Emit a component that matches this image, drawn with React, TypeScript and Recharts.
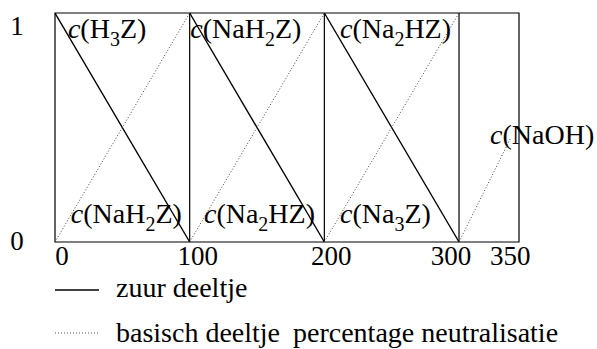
import React from 'react';
import {
  LineChart,
  Line,
  XAxis,
  YAxis,
  ReferenceLine,
  ReferenceArea,
  ReferenceDot,
  Legend,
  Label,
} from 'recharts';

const FONT = "'Liberation Serif', 'Times New Roman', Times, serif";
const FS = 28;
const textStyle: React.CSSProperties = { fontFamily: FONT, fontSize: FS };
const tickStyle: React.CSSProperties = { fontFamily: FONT, fontSize: 27 };

// ---------- data ----------
const xTicks = [0, 100, 200, 300, 350];
const xTickLabels = ['0', '100', '200', '300', '350'];
const yTicks = [0, 1];
const yTickLabels = ['0', '1'];
const dividers = [100, 200, 300];
const xMaxPercent = 358.6;

// zure deeltjes (solid)
const zuurH3Z = [{ p: 0, c: 1 }, { p: 100, c: 0 }];
const zuurNaH2Z = [{ p: 100, c: 1 }, { p: 200, c: 0 }];
const zuurNa2HZ = [{ p: 200, c: 1 }, { p: 300, c: 0 }];
// basische deeltjes (dotted)
const basNaH2Z = [{ p: 0, c: 0 }, { p: 100, c: 1 }];
const basNa2HZ = [{ p: 100, c: 0 }, { p: 200, c: 1 }];
const basNa3Z = [{ p: 200, c: 0 }, { p: 300, c: 1 }];
const basNaOH = [{ p: 300, c: 0 }, { p: 350, c: 0.45 }];

const speciesLabels = [
  { text: 'c(H3Z)', p: 9.6, c: 0.89 },
  { text: 'c(NaH2Z)', p: 100.5, c: 0.89 },
  { text: 'c(Na2HZ)', p: 211.6, c: 0.89 },
  { text: 'c(NaH2Z)', p: 11.7, c: 0.083 },
  { text: 'c(Na2HZ)', p: 110.6, c: 0.083 },
  { text: 'c(Na3Z)', p: 211.6, c: 0.083 },
  { text: 'c(NaOH)', p: 330.3, c: 0.43 },
];

const legendItems = ['zuur deeltje', 'basisch deeltje'];
const axisTitle = 'percentage neutralisatie';

// the segment beyond 300 % is drawn compressed in the original figure
const axisPos = (p: number) => (p <= 300 ? p : 300 + (p - 300) * 0.76);

// ---------- styles ----------
const xTickDx = [7, 8, 7, -8, 0];
const yTickDy = [8, 22];

const SpeciesText = ({ x, y, text }: { x: number; y: number; text: string }) => {
  const segs = text.slice(1).match(/\d+|\D+/g) || [];
  let shifted = false;
  const parts: React.ReactNode[] = [
    <tspan key="c" style={{ fontStyle: 'italic' }}>
      c
    </tspan>,
  ];
  segs.forEach((s, i) => {
    if (/\d/.test(s)) {
      parts.push(
        <tspan key={i} dy={8} style={{ fontSize: 20 }}>
          {s}
        </tspan>
      );
      shifted = true;
    } else {
      parts.push(
        <tspan key={i} dy={shifted ? -8 : 0}>
          {s}
        </tspan>
      );
      shifted = false;
    }
  });
  return (
    <text x={x} y={y} style={textStyle} fill="#000">
      {parts}
    </text>
  );
};

const XTick = (props: any) => {
  const { x, y, index } = props;
  return (
    <text x={x + xTickDx[index]} y={y + 23} textAnchor="middle" style={tickStyle} fill="#000">
      {xTickLabels[index]}
    </text>
  );
};

const YTick = (props: any) => {
  const { x, y, index } = props;
  return (
    <text x={x - 38} y={y + yTickDy[index]} textAnchor="middle" style={tickStyle} fill="#000">
      {yTickLabels[index]}
    </text>
  );
};

const LegendContent = () => (
  <svg width={597} height={73} style={{ display: 'block', overflow: 'visible' }}>
    <line x1={55} x2={99} y1={14} y2={14} stroke="#000" strokeWidth={1.3} />
    <text x={116} y={21} style={textStyle} fill="#000">
      {legendItems[0]}
    </text>
    <line x1={55} x2={99} y1={57} y2={57} stroke="#555" strokeWidth={1} strokeDasharray="1 2" />
    <text x={116} y={66} style={textStyle} fill="#000">
      {legendItems[1]}
    </text>
  </svg>
);

const solidProps = {
  type: 'linear' as const,
  dataKey: 'c',
  stroke: '#000',
  strokeWidth: 1.4,
  dot: false,
  activeDot: false,
  isAnimationActive: false,
  legendType: 'none' as const,
};
const dottedProps = {
  ...solidProps,
  stroke: '#444',
  strokeWidth: 1,
  strokeDasharray: '1 2',
};

export default function App() {
  const xMax = axisPos(xMaxPercent);
  return (
    <div style={{ position: 'absolute', left: 0, top: 0, width: 597, height: 349, background: '#fff', fontFamily: FONT }}>
      <LineChart width={597} height={349} margin={{ top: 13, right: 78, bottom: 77, left: 0 }}>
        <XAxis
          type="number"
          dataKey={(d: any) => axisPos(d.p)}
          domain={[0, xMax]}
          ticks={xTicks.map(axisPos)}
          interval={0}
          allowDataOverflow
          axisLine={false}
          tickLine={false}
          tickSize={0}
          tickMargin={0}
          height={30}
          tick={<XTick />}
        >
          <Label
            content={(props: any) => {
              const vb = props.viewBox || { x: 55, y: 242 };
              return (
                <text x={vb.x + 238} y={vb.y + 100} style={textStyle} fill="#000">
                  {axisTitle}
                </text>
              );
            }}
          />
        </XAxis>
        <YAxis
          type="number"
          domain={[0, 1]}
          ticks={yTicks}
          interval={0}
          width={55}
          axisLine={false}
          tickLine={false}
          tickSize={0}
          tickMargin={0}
          tick={<YTick />}
        />
        <ReferenceArea x1={0} x2={xMax} y1={0} y2={1} fill="none" stroke="#000" strokeWidth={1.2} ifOverflow="extendDomain" />
        {dividers.map((d) => (
          <ReferenceLine key={d} x={axisPos(d)} stroke="#000" strokeWidth={1.2} />
        ))}
        <Line data={zuurH3Z} {...solidProps} name="zuur H3Z" />
        <Line data={zuurNaH2Z} {...solidProps} name="zuur NaH2Z" />
        <Line data={zuurNa2HZ} {...solidProps} name="zuur Na2HZ" />
        <Line data={basNaH2Z} {...dottedProps} name="basisch NaH2Z" />
        <Line data={basNa2HZ} {...dottedProps} name="basisch Na2HZ" />
        <Line data={basNa3Z} {...dottedProps} name="basisch Na3Z" />
        <Line data={basNaOH} {...dottedProps} name="basisch NaOH" />
        {speciesLabels.map((s, i) => (
          <ReferenceDot
            key={i}
            x={axisPos(s.p)}
            y={s.c}
            r={0}
            fill="none"
            stroke="none"
            label={(props: any) => {
              const vb = props.viewBox || { x: 0, y: 0 };
              return <SpeciesText x={vb.x} y={vb.y} text={s.text} />;
            }}
          />
        ))}
        <Legend
          layout="vertical"
          verticalAlign="middle"
          align="center"
          wrapperStyle={{ top: 276, left: 0, width: 597, overflow: 'visible' }}
          content={() => <LegendContent />}
        />
      </LineChart>
    </div>
  );
}
